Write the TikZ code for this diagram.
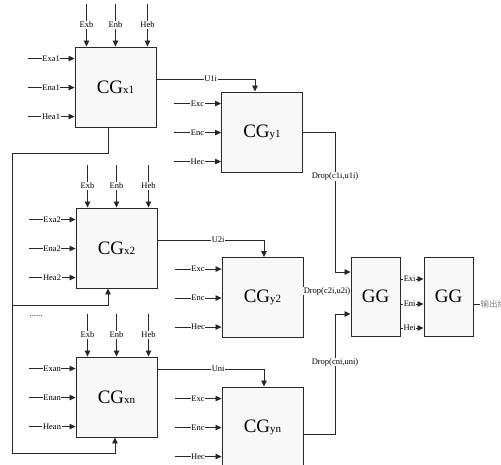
\documentclass[tikz,border=0pt]{standalone}
\usepackage{fontspec}
\setmainfont{Liberation Serif}
\newfontfamily\cjkfont{Noto Sans CJK SC}
\usetikzlibrary{arrows.meta,positioning,calc}
\definecolor{wireGray}{RGB}{40,40,40}
\definecolor{boxFill}{RGB}{248,248,248}
\newcommand{\cgsub}[1]{{\fontsize{11}{11}\selectfont #1}}

\begin{document}
\begin{tikzpicture}[x=1pt,y=-1pt,
    every node/.style={font=\fontsize{8.5}{9}\selectfont},
    >={Triangle[length=6pt,width=5.5pt]},
    wire/.style={draw=wireGray, line width=0.8pt},
    sig/.style={fill=white, inner sep=0.6pt},
    cgbox/.style={draw=wireGray, line width=0.9pt, fill=boxFill,
      minimum width=81pt, minimum height=80pt, inner sep=0pt,
      font=\fontsize{19}{19}\selectfont},
    ggbox/.style={cgbox, minimum width=49pt, minimum height=79pt}]
    \useasboundingbox (0,0) rectangle (501,465);
    % Blocks
    \node[cgbox] (x1) at (115.5,87) {CG\cgsub{x1}};
    \node[cgbox] (y1) at (262,132) {CG\cgsub{y1}};
    \node[cgbox] (x2) at (116.5,248) {CG\cgsub{x2}};
    \node[cgbox] (y2) at (262.5,297.5) {CG\cgsub{y2}};
    \node[cgbox] (xn) at (116.5,397) {CG\cgsub{xn}};
    \node[cgbox] (yn) at (262.5,427) {CG\cgsub{yn}};
    \node[ggbox] (g1) at (375.5,296.5) {GG};
    \node[ggbox] (g2) at (448.5,296.5) {GG};
    \node (dots) at (36,316) {......};
    % Inputs of the CG_x blocks
    \foreach \cg/\i in {x1/1, x2/2, xn/n} {
      \foreach \dy/\lab in {12/Exa, 41/Ena, 70/Hea} {
        \coordinate (\cg-\lab) at ($(\cg.north west)+(-47,\dy)$);
        \draw[wire,->] (\cg-\lab) -- node[sig]{\lab\i} (\cg-\lab -| \cg.west);
      }
      \foreach \dx/\lab in {-29/Exb, 0/Enb, 32/Heb} {
        \coordinate (\cg-\lab) at ($(\cg.north)+(\dx,-43)$);
        \draw[wire,->] (\cg-\lab) -- node[sig]{\lab} (\cg-\lab |- \cg.north);
      }
    }
    % Inputs of the CG_y blocks
    \foreach \cg in {y1, y2, yn} {
      \foreach \dy/\lab in {12/Exc, 41/Enc, 70/Hec} {
        \coordinate (\cg-\lab) at ($(\cg.north west)+(-47,\dy)$);
        \draw[wire,->] (\cg-\lab) -- node[sig]{\lab} (\cg-\lab -| \cg.west);
      }
    }
    % U links
    \coordinate (u1) at (255,79);
    \coordinate (u2) at (264,240);
    \coordinate (un) at (264,369);
    \draw[wire,->] (x1.east |- u1) -- node[sig,pos=0.55]{U1i} (u1) -- (y1.north -| u1);
    \draw[wire,->] (x2.east |- u2) -- node[sig,pos=0.57]{U2i} (u2) -- (y2.north -| u2);
    \draw[wire,->] (xn.east |- un) -- node[sig,pos=0.57]{Uni} (un) -- (yn.north -| un);
    % Drop links
    \coordinate (d1) at (335,272);
    \coordinate (d2) at (351,291);
    \coordinate (dn) at (335,314);
    \coordinate (yn-out) at ($(yn.east)+(0,7)$);
    \draw[wire,->] (y1.east) -- (y1.east -| d1) -- node[sig,pos=0.32]{Drop(c1i,u1i)} (d1) -- (d1 -| g1.west);
    \draw[wire] (y2.east |- d2) -- node[sig]{Drop(c2i,u2i)} (g1.west |- d2);
    \draw[wire,->] (yn-out) -- (yn-out -| dn) -- node[sig,pos=0.6]{Drop(cni,uni)} (dn) -- (dn -| g1.west);
    % GG to GG
    \foreach \dy/\lab in {-17.5/Exi, 7.5/Eni, 31.5/Hei} {
      \draw[wire,->] ($(g1.east)+(0,\dy)$) -- node[sig,pos=0.4]{\lab} ($(g2.west)+(0,\dy)$);
    }
    % Output
    \node[anchor=west, text=gray, inner sep=0.5pt,
      font=\cjkfont\fontsize{8.5}{9}\selectfont] (out) at (480,304) {输出结果};
    \draw[wire] (g2.east |- out) -- (out.west);
    % Feedback from CG_x1
    \coordinate (x1-fb) at ($(x1.south)+(-7.5,0)$);
    \coordinate (fbL) at (12,153);
    \coordinate (fb2) at (108,305);
    \coordinate (fbn) at (115,453);
    \draw[wire,->] (x1-fb) |- (fbL) -- (fbL |- fbn) -- (fbn) -- (fbn |- xn.south);
    \draw[wire,->] (fbL |- fb2) -- (fb2) -- (fb2 |- x2.south);
\end{tikzpicture}
\end{document}
